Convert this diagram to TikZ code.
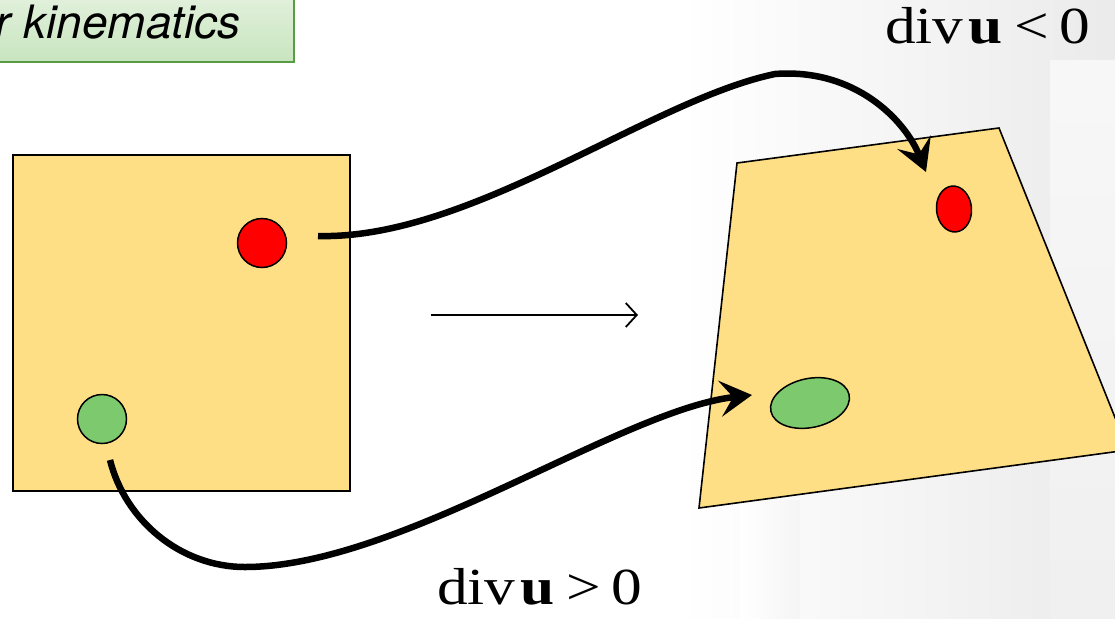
\documentclass[tikz,border=0pt]{standalone}
\usepackage{fontspec}
\setmainfont{Liberation Serif}
\newfontfamily\heros{TeX Gyre Heros}
\usetikzlibrary{arrows.meta,shapes.geometric}
\definecolor{paper}{RGB}{255,223,133}
\definecolor{dotred}{RGB}{255,0,0}
\definecolor{dotgreen}{RGB}{125,201,110}
\definecolor{titletop}{RGB}{232,243,227}
\definecolor{titlebot}{RGB}{200,229,190}
\definecolor{titleline}{RGB}{90,155,70}
\begin{document}
\begin{tikzpicture}[x=1pt,y=-1pt,
  plate/.style={draw=black,line width=1.6pt,fill=paper},
  dot/.style={draw=black,line width=1.5pt,inner sep=0pt},
  bigarrow/.style={line width=6.5pt,-{Stealth[length=32pt,width=36pt,inset=13pt]}},
  maparrow/.style={line width=1.8pt,-{Straight Barb[length=11pt,width=24pt,line width=1.8pt]}},
  divlabel/.style={inner sep=0pt,font=\fontsize{52}{54}\selectfont},
  titlebox/.style={draw=titleline,line width=2pt,top color=titletop,bottom color=titlebot}
]
\useasboundingbox (0,0) rectangle (1115,618);
\clip (0,0) rectangle (1115,618);
% faint background photo
\shade[left color=white,right color=gray!16] (680,0) rectangle (1115,618);
\shade[top color=gray!6,bottom color=gray!12] (1050,60) rectangle (1115,618);
\shade[left color=white,right color=gray!8] (740,500) rectangle (800,618);
% title box
\draw[titlebox] (-20,-20) rectangle (294,62);
\node[anchor=base east,inner sep=0pt,font=\heros\itshape\fontsize{46}{48}\selectfont] (title) at (241,38) {r kinematics};
% left square
\node[plate,minimum width=337pt,minimum height=336pt,inner sep=0pt] (sq) at (181.5,323) {};
\node[dot,circle,fill=dotred,minimum size=49pt] (rA) at (262,243) {};
\node[dot,circle,fill=dotgreen,minimum size=49pt] (gA) at (102,419) {};
% right trapezoid
\draw[plate] (737,163) -- (999,128) -- (1128,450) -- (699,508) -- cycle;
\node[dot,ellipse,fill=dotred,rotate=5,minimum width=35pt,minimum height=46pt] (rB) at (954,209) {};
\node[dot,ellipse,fill=dotgreen,rotate=12,minimum width=80pt,minimum height=49pt] (gB) at (810,403) {};
% mapping arrow
\coordinate (m1) at (431,315);
\coordinate (m2) at (638,315);
\draw[maparrow] (m1) -- (m2);
% trajectory arrows
\coordinate (t1) at (318,236);
\coordinate (t2) at (926,172);
\draw[bigarrow] (t1) .. controls (470,240) and (650,100) .. (775,74) .. controls (855,68) and (905,120) .. (t2);
\coordinate (b1) at (110,460);
\coordinate (b2) at (752,395);
\draw[bigarrow] (b1) .. controls (125,520) and (180,567) .. (245,567) .. controls (400,567) and (620,410) .. (b2);
% labels
\node[divlabel,anchor=base west] (lneg) at (885,44) {\scalebox{1.18}[1]{div\hspace{4pt}\textbf{u}\hspace{10pt}<\hspace{9pt}0}};
\node[divlabel,anchor=base west] (lpos) at (437,604) {\scalebox{1.18}[1]{div\hspace{4pt}\textbf{u}\hspace{10pt}>\hspace{9pt}0}};
\end{tikzpicture}
\end{document}
